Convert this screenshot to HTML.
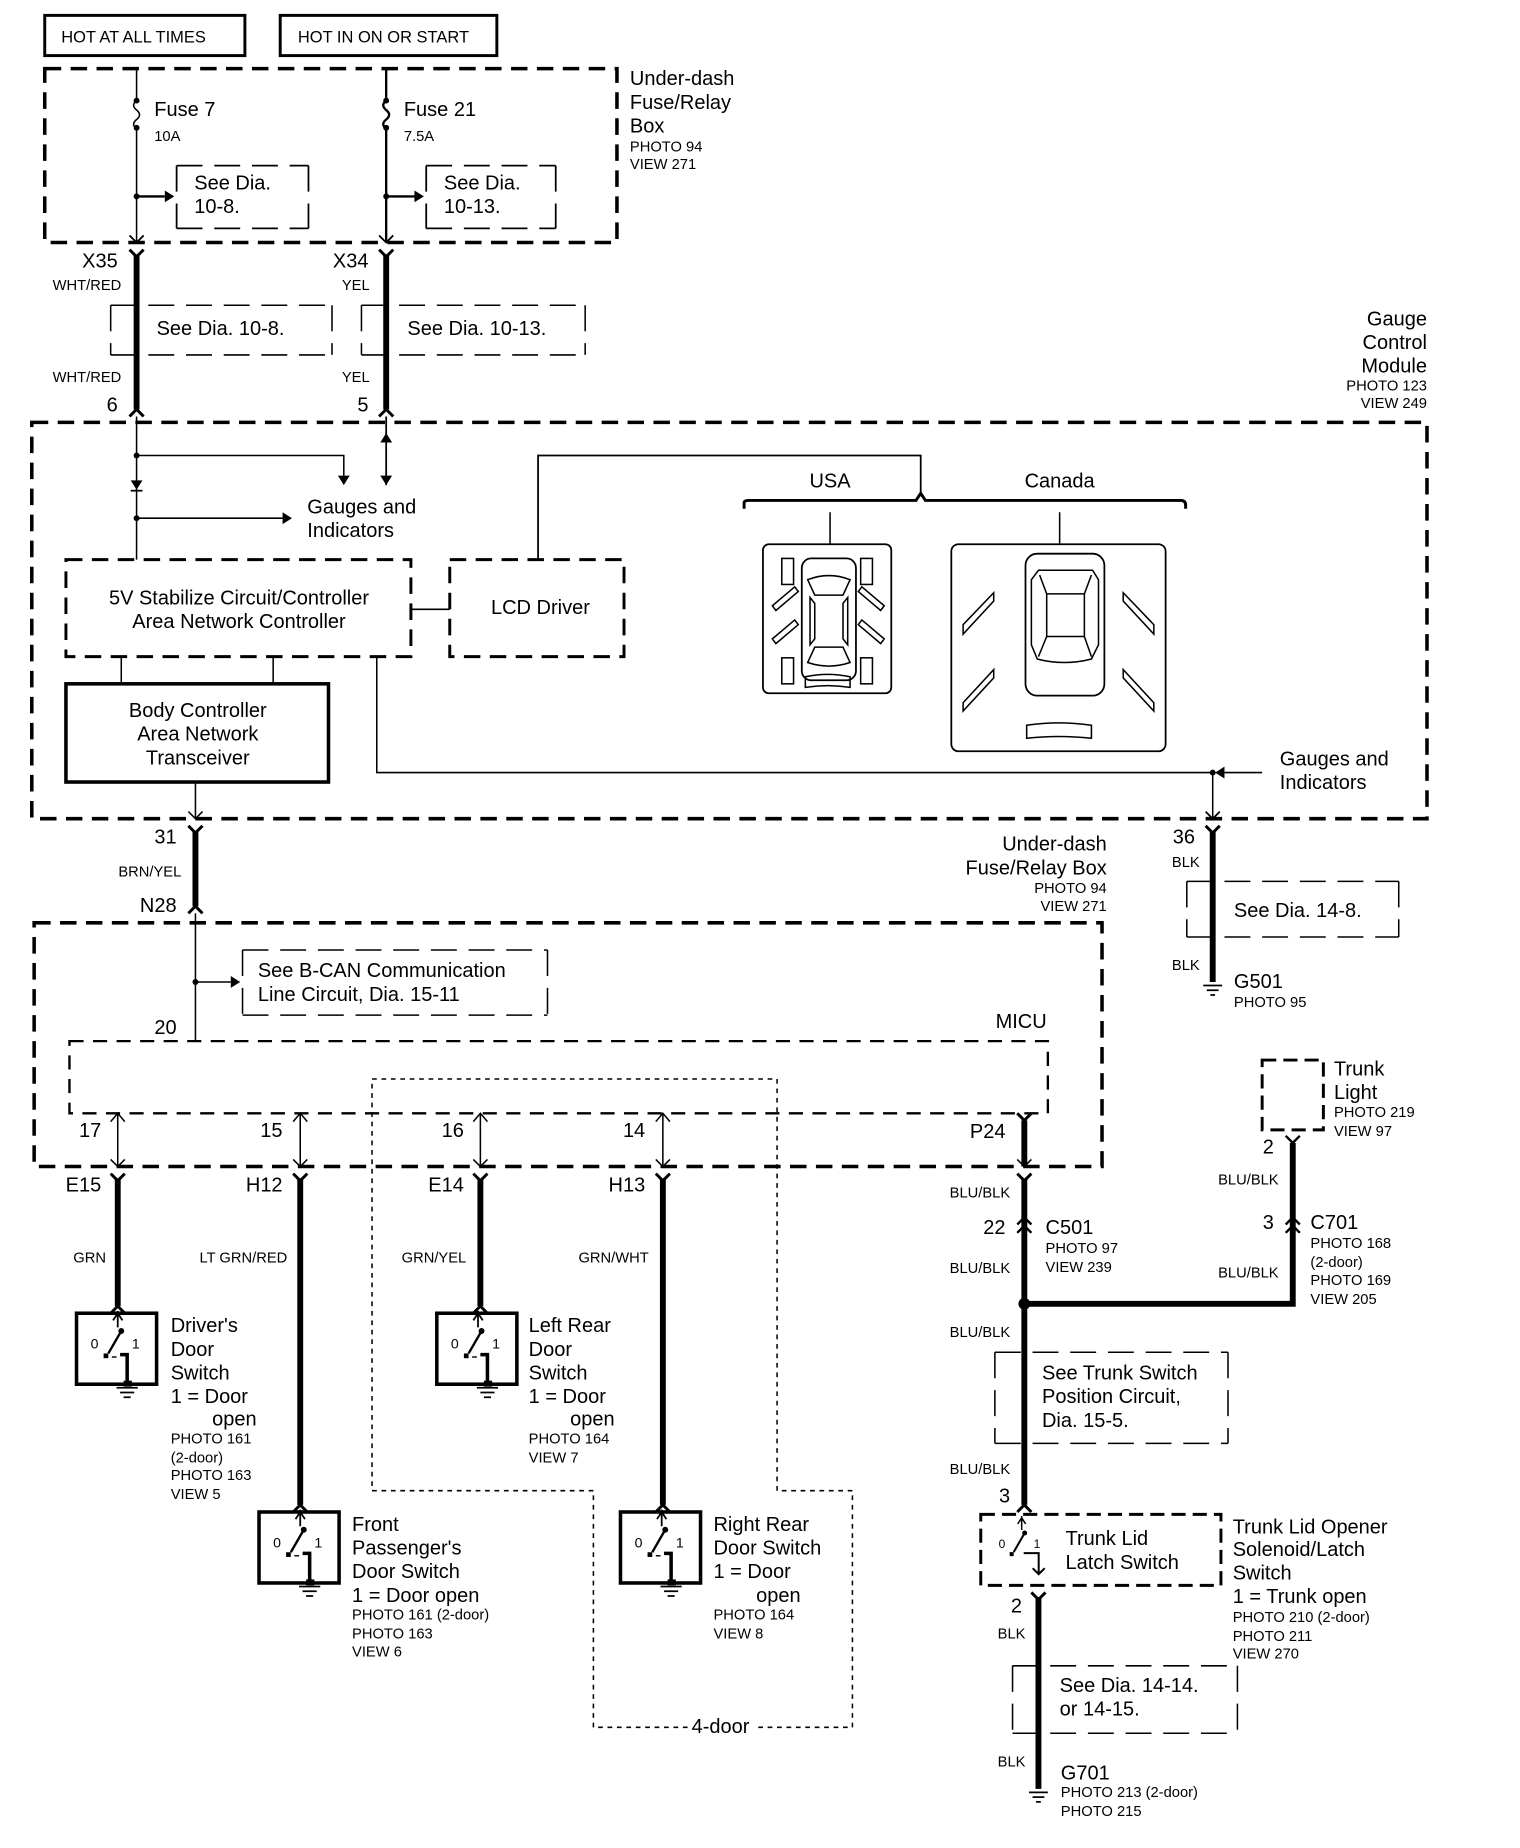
<!DOCTYPE html>
<html><head><meta charset="utf-8"><style>
html,body{margin:0;padding:0;background:#fff;}
svg{display:block;}
text{font-family:"Liberation Sans",Arial,sans-serif;fill:#000;}
.b{font-size:17px;}
.s{font-size:12.5px;}
.m{font-size:14px;}
</style></head><body>
<svg width="1520" height="1848" viewBox="0 0 1291 1562" preserveAspectRatio="none" xmlns="http://www.w3.org/2000/svg">
<defs>
<g id="sw">
 <rect x="0" y="0" width="68" height="60" fill="#fff" stroke="#000" stroke-width="3"/>
 <path d="M35,-2 L35,12 M31,6 L35,0 L39,6" stroke="#000" stroke-width="1.5" fill="none"/>
 <circle cx="38" cy="15" r="2.5"/>
 <path d="M38,15 L27,34" stroke="#000" stroke-width="2"/>
 <rect x="23" y="34" width="4" height="4"/>
 <path d="M30,37 L34,37" stroke="#000" stroke-width="1.2"/>
 <path d="M37,35 L43,35 L43,60" stroke="#000" stroke-width="3" fill="none"/>
 <rect x="40" y="57" width="7" height="5"/>
 <path d="M34,63 L52,63 M37,67 L49,67 M40,71 L46,71" stroke="#000" stroke-width="1.5"/>
 <text x="12" y="30" style="font-size:12px">0</text>
 <text x="47" y="30" style="font-size:12px">1</text>
</g>
<g id="gnd"><path d="M-8,0 L8,0 M-5,4 L5,4 M-2,8 L2,8" stroke="#000" stroke-width="1.5"/></g>
</defs>
<g fill="none" stroke="#000">
<rect x="38" y="13" width="170" height="34" stroke-width="2.5"/>
<rect x="238" y="13" width="184" height="34" stroke-width="2.5"/>
<rect x="38" y="58" width="486" height="147" stroke-width="3" stroke-dasharray="14,8"/>
<path d="M116,58 L116,85 q-5,4 0,8 q5,4 0,8 q-5,4 0,8 L116,205" stroke-width="1.3"/>
<path d="M328,58 L328,85 q-5,4 0,8 q5,4 0,8 q-5,4 0,8 L328,205" stroke-width="2"/>
<path d="M116,166 L140,166 M328,166 L352,166" stroke-width="2"/>
<path d="M150,140 L262,140 M150,193 L262,193 M150,140 L150,193 M262,140 L262,193" stroke-width="1.5" stroke-dasharray="22,10"/>
<path d="M362,140 L472,140 M362,193 L472,193 M362,140 L362,193 M472,140 L472,193" stroke-width="1.5" stroke-dasharray="22,10"/>
<path d="M110,199 L116,205 L122,199 M322,199 L328,205 L334,199" stroke-width="1.5"/>
<path d="M110,211 L116,217 L122,211 M322,211 L328,217 L334,211" stroke-width="2.5"/>
<path d="M116,215 L116,346 M328,215 L328,346" stroke-width="5"/>
<path d="M110,352 L116,346 L122,352 M322,352 L328,346 L334,352" stroke-width="2.5"/>
<path d="M94,258 L282,258 M94,300 L282,300 M94,258 L94,300 M282,258 L282,300" stroke-width="1.3" stroke-dasharray="22,10"/>
<path d="M307,258 L497,258 M307,300 L497,300 M307,258 L307,300 M497,258 L497,300" stroke-width="1.3" stroke-dasharray="22,10"/>
<rect x="27" y="357" width="1185" height="335" stroke-width="3" stroke-dasharray="14,8"/>
<path d="M116,352 L116,473" stroke-width="1.3"/>
<path d="M328,352 L328,410" stroke-width="1.5"/>
<path d="M116,385 L292,385 L292,402 M116,438 L240,438" stroke-width="1.3"/>
<path d="M56,473 L349,473 L349,555 L56,555 Z" stroke-width="2.5" stroke-dasharray="14,8"/>
<path d="M382,473 L530,473 L530,555 L382,555 Z" stroke-width="2.5" stroke-dasharray="14,8"/>
<path d="M349,515 L382,515" stroke-width="1.3"/>
<path d="M457,473 L457,385 L782,385 L782,418" stroke-width="1.5"/>
<path d="M632,430 L632,425 Q632,423 636,423 L778,423 L782,417 L786,423 L1003,423 Q1007,423 1007,427 L1007,430" stroke-width="2.5"/>
<path d="M705,433 L705,460 M900,433 L900,460" stroke-width="1.3"/>
<rect x="56" y="578" width="223" height="83" stroke-width="3"/>
<path d="M103,555 L103,578 M232,555 L232,578" stroke-width="1.3"/>
<path d="M320,555 L320,653 L1030,653 L1030,692 M1040,653 L1072,653" stroke-width="1.3"/>
<path d="M166,661 L166,692 M160,686 L166,692 L172,686" stroke-width="1.3"/>
<path d="M1024,686 L1030,692 L1036,686" stroke-width="1.5"/>
<rect x="648" y="460" width="109" height="126" rx="5" stroke-width="1.5"/>
<rect x="681" y="472" width="46" height="103" rx="8" stroke-width="1.5"/>
<path d="M686,490 Q704,483 722,490 L716,503 L692,503 Z M688,505 L692,510 L692,540 L688,545 Z M720,505 L716,510 L716,540 L720,545 Z M692,547 L716,547 L722,560 Q704,566 686,560 Z" stroke-width="1.3"/>
<rect x="664" y="472" width="10" height="22" stroke-width="1.3"/><rect x="731" y="472" width="10" height="22" stroke-width="1.3"/>
<rect x="664" y="556" width="10" height="22" stroke-width="1.3"/><rect x="731" y="556" width="10" height="22" stroke-width="1.3"/>
<path d="M656,512 L675,496 L678,500 L659,516 Z M656,540 L675,524 L678,528 L659,544 Z M751,512 L732,496 L729,500 L748,516 Z M751,540 L732,524 L729,528 L748,544 Z" stroke-width="1.3"/>
<path d="M684,572 Q703,568 722,572 L722,581 Q703,578 684,581 Z" stroke-width="1.3"/>
<rect x="808" y="460" width="182" height="175" rx="6" stroke-width="1.5"/>
<rect x="871" y="468" width="67" height="120" rx="10" stroke-width="1.5"/>
<path d="M882,482 L928,482 L933,490 L933,545 L927,557 Q904,563 881,557 L876,545 L876,490 Z M883,486 L889,502 L921,502 L927,486 M889,502 L889,538 L921,538 L921,502 M889,538 L882,555 M921,538 L927,555" stroke-width="1.3"/>
<path d="M818,528 L844,501 L844,508 L818,536 Z M818,594 L844,566 L844,573 L818,601 Z M980,528 L954,501 L954,508 L980,536 Z M980,594 L954,566 L954,573 L980,601 Z" stroke-width="1.3"/>
<path d="M872,613 Q899,609 927,613 L927,624 Q899,621 872,624 Z" stroke-width="1.3"/>
<path d="M160,698 L166,704 L172,698" stroke-width="2.5"/>
<path d="M166,702 L166,766" stroke-width="5"/>
<path d="M160,772 L166,766 L172,772" stroke-width="2.5"/>
<path d="M1024,698 L1030,704 L1036,698" stroke-width="2.5"/>
<path d="M1030,702 L1030,830" stroke-width="5"/>
<path d="M1008,745 L1188,745 M1008,792 L1188,792 M1008,745 L1008,792 M1188,745 L1188,792" stroke-width="1.3" stroke-dasharray="22,10"/>
<rect x="29" y="780" width="907" height="206" stroke-width="3" stroke-dasharray="14,8"/>
<path d="M166,772 L166,880 M166,830 L196,830" stroke-width="1.3"/>
<path d="M206,803 L465,803 M206,858 L465,858 M206,803 L206,858 M465,803 L465,858" stroke-width="1.3" stroke-dasharray="22,10"/>
<rect x="59" y="880" width="831" height="61" stroke-width="2" stroke-dasharray="12,8"/>
<path d="M316,912 L660,912 L660,1260 L724,1260 L724,1460 L504,1460 L504,1260 L316,1260 Z" stroke-width="1.3" stroke-dasharray="4,4"/>
<path d="M100,941 L100,986 M255,941 L255,986 M408,941 L408,986 M563,941 L563,986" stroke-width="1.3"/>
<path d="M94,948 L100,941 L106,948 M249,948 L255,941 L261,948 M402,948 L408,941 L414,948 M557,948 L563,941 L569,948" stroke-width="1.3"/>
<path d="M94,980 L100,986 L106,980 M249,980 L255,986 L261,980 M402,980 L408,986 L414,980 M557,980 L563,986 L569,980 M864,980 L870,986 L876,980" stroke-width="1.3"/>
<path d="M864,941 L870,947 L876,941 M94,992 L100,998 L106,992 M249,992 L255,998 L261,992 M402,992 L408,998 L414,992 M557,992 L563,998 L569,992 M864,992 L870,998 L876,992" stroke-width="2.5"/>
<path d="M870,947 L870,986" stroke-width="5"/>
<path d="M100,996 L100,1104 M255,996 L255,1272 M408,996 L408,1104 M563,996 L563,1272" stroke-width="5"/>
<path d="M94,1110 L100,1104 L106,1110 M249,1278 L255,1272 L261,1278 M402,1110 L408,1104 L414,1110 M557,1278 L563,1272 L569,1278" stroke-width="2.5"/>
<path d="M870,996 L870,1272 M870,1102 L1098,1102 L1098,966" stroke-width="5"/>
<path d="M864,1035 L870,1029 L876,1035 M864,1042 L870,1036 L876,1042" stroke-width="2"/>
<path d="M1092,1035 L1098,1029 L1104,1035 M1092,1042 L1098,1036 L1104,1042 M1092,960 L1098,966 L1104,960" stroke-width="2"/>
<path d="M1072,896 L1124,896 L1124,955 L1072,955 Z" stroke-width="2.5" stroke-dasharray="12,6"/>
<path d="M845,1143 L1043,1143 M845,1220 L1043,1220 M845,1143 L845,1220 M1043,1143 L1043,1220" stroke-width="1.3" stroke-dasharray="22,10"/>
<path d="M864,1278 L870,1272 L876,1278" stroke-width="2.5"/>
<path d="M833,1280 L1037,1280 L1037,1340 L833,1340 Z" stroke-width="2.5" stroke-dasharray="12,6"/>
<path d="M876,1346 L882,1352 L888,1346" stroke-width="2.5"/>
<path d="M882,1350 L882,1512" stroke-width="5"/>
<path d="M860,1408 L1051,1408 M860,1465 L1051,1465 M860,1408 L860,1465 M1051,1408 L1051,1465" stroke-width="1.3" stroke-dasharray="22,10"/>
</g>
<g fill="#000">
<circle cx="116" cy="85" r="2.5"/><circle cx="116" cy="108" r="2.5"/><circle cx="328" cy="85" r="2.5"/><circle cx="328" cy="108" r="2.5"/>
<circle cx="116" cy="166" r="2.5"/><circle cx="328" cy="166" r="2.5"/>
<path d="M140,161 L148,166 L140,171 Z M352,161 L360,166 L352,171 Z"/>
<circle cx="116" cy="385" r="2.5"/><circle cx="116" cy="438" r="2.5"/>
<path d="M287,402 L292,410 L297,402 Z M323,402 L328,410 L333,402 Z M323,374 L328,366 L333,374 Z M240,433 L248,438 L240,443 Z"/>
<path d="M111,406 L121,406 L116,414 Z"/><rect x="111" y="414" width="10" height="1.5"/>
<path d="M1040,648 L1032,653 L1040,658 Z"/><circle cx="1030" cy="653" r="2.5"/>
<circle cx="166" cy="830" r="2.5"/><path d="M196,825 L204,830 L196,835 Z"/>
<circle cx="870" cy="1102" r="5"/>
</g>
<use href="#gnd" x="1030" y="833"/>
<use href="#gnd" x="882" y="1515"/>
<use href="#sw" x="65" y="1110"/>
<use href="#sw" x="220" y="1278"/>
<use href="#sw" x="371" y="1110"/>
<use href="#sw" x="527" y="1278"/>
<g transform="translate(838,1283) scale(0.85)">
 <path d="M35,-2 L35,12 M31,6 L35,0 L39,6" stroke="#000" stroke-width="1.5" fill="none"/>
 <circle cx="38" cy="15" r="2.5"/>
 <path d="M38,15 L27,34" stroke="#000" stroke-width="2"/>
 <rect x="23" y="34" width="4" height="4"/>
 <path d="M37,35 L52,35 L52,55 M46,50 L52,56 L58,50" stroke="#000" stroke-width="2" fill="none"/>
 <text x="12" y="30" style="font-size:12px">0</text>
 <text x="47" y="30" style="font-size:12px">1</text>
</g>
<text x="52" y="36" class="m">HOT AT ALL TIMES</text>
<text x="253" y="36" class="m">HOT IN ON OR START</text>
<text x="535" y="72" class="b">Under-dash</text><text x="535" y="92" class="b">Fuse/Relay</text><text x="535" y="112" class="b">Box</text>
<text x="535" y="128" class="s">PHOTO 94</text><text x="535" y="143" class="s">VIEW 271</text>
<text x="131" y="98" class="b">Fuse 7</text><text x="131" y="119" class="s">10A</text>
<text x="343" y="98" class="b">Fuse 21</text><text x="343" y="119" class="s">7.5A</text>
<text x="165" y="160" class="b">See Dia.</text><text x="165" y="180" class="b">10-8.</text>
<text x="377" y="160" class="b">See Dia.</text><text x="377" y="180" class="b">10-13.</text>
<g text-anchor="end">
<text x="100" y="226" class="b">X35</text><text x="103" y="245" class="s">WHT/RED</text>
<text x="313" y="226" class="b">X34</text><text x="314" y="245" class="s">YEL</text>
<text x="103" y="323" class="s">WHT/RED</text><text x="314" y="323" class="s">YEL</text>
<text x="100" y="348" class="b">6</text><text x="313" y="348" class="b">5</text>
<text x="1212" y="275" class="b">Gauge</text><text x="1212" y="295" class="b">Control</text><text x="1212" y="315" class="b">Module</text>
<text x="1212" y="330" class="s">PHOTO 123</text><text x="1212" y="345" class="s">VIEW 249</text>
<text x="150" y="713" class="b">31</text><text x="154" y="741" class="s">BRN/YEL</text><text x="150" y="771" class="b">N28</text>
<text x="940" y="719" class="b">Under-dash</text><text x="940" y="739" class="b">Fuse/Relay Box</text>
<text x="940" y="755" class="s">PHOTO 94</text><text x="940" y="770" class="s">VIEW 271</text>
<text x="1015" y="713" class="b">36</text><text x="1019" y="733" class="s">BLK</text><text x="1019" y="820" class="s">BLK</text>
<text x="889" y="869" class="b">MICU</text>
<text x="150" y="874" class="b">20</text>
<text x="86" y="961" class="b">17</text><text x="240" y="961" class="b">15</text><text x="394" y="961" class="b">16</text><text x="548" y="961" class="b">14</text><text x="854" y="962" class="b">P24</text>
<text x="86" y="1007" class="b">E15</text><text x="240" y="1007" class="b">H12</text><text x="394" y="1007" class="b">E14</text><text x="548" y="1007" class="b">H13</text>
<text x="90" y="1067" class="s">GRN</text><text x="244" y="1067" class="s">LT GRN/RED</text><text x="396" y="1067" class="s">GRN/YEL</text><text x="551" y="1067" class="s">GRN/WHT</text>
<text x="858" y="1012" class="s">BLU/BLK</text><text x="854" y="1043" class="b">22</text><text x="858" y="1076" class="s">BLU/BLK</text>
<text x="858" y="1130" class="s">BLU/BLK</text><text x="858" y="1246" class="s">BLU/BLK</text><text x="858" y="1270" class="b">3</text>
<text x="1082" y="975" class="b">2</text><text x="1086" y="1001" class="s">BLU/BLK</text><text x="1082" y="1039" class="b">3</text><text x="1086" y="1080" class="s">BLU/BLK</text>
<text x="868" y="1363" class="b">2</text><text x="871" y="1385" class="s">BLK</text><text x="871" y="1493" class="s">BLK</text>
<text x="218" y="1205" class="b">open</text><text x="680" y="1354" class="b">open</text><text x="522" y="1205" class="b">open</text>
</g>
<text x="261" y="434" class="b">Gauges and</text><text x="261" y="454" class="b">Indicators</text>
<text x="203" y="511" class="b" text-anchor="middle">5V Stabilize Circuit/Controller</text>
<text x="203" y="531" class="b" text-anchor="middle">Area Network Controller</text>
<text x="459" y="519" class="b" text-anchor="middle">LCD Driver</text>
<text x="705" y="412" class="b" text-anchor="middle">USA</text><text x="900" y="412" class="b" text-anchor="middle">Canada</text>
<text x="168" y="606" class="b" text-anchor="middle">Body Controller</text><text x="168" y="626" class="b" text-anchor="middle">Area Network</text><text x="168" y="646" class="b" text-anchor="middle">Transceiver</text>
<text x="1087" y="647" class="b">Gauges and</text><text x="1087" y="667" class="b">Indicators</text>
<text x="133" y="283" class="b">See Dia. 10-8.</text><text x="346" y="283" class="b">See Dia. 10-13.</text>
<text x="1048" y="775" class="b">See Dia. 14-8.</text>
<text x="1048" y="835" class="b">G501</text><text x="1048" y="851" class="s">PHOTO 95</text>
<text x="219" y="826" class="b">See B-CAN Communication</text><text x="219" y="846" class="b">Line Circuit, Dia. 15-11</text>
<rect x="585" y="1450" width="56" height="20" fill="#fff"/>
<text x="612" y="1465" class="b" text-anchor="middle">4-door</text>
<text x="145" y="1126" class="b">Driver's</text><text x="145" y="1146" class="b">Door</text><text x="145" y="1166" class="b">Switch</text><text x="145" y="1186" class="b">1 = Door</text>
<text x="145" y="1220" class="s">PHOTO 161</text><text x="145" y="1236" class="s">(2-door)</text><text x="145" y="1251" class="s">PHOTO 163</text><text x="145" y="1267" class="s">VIEW 5</text>
<text x="299" y="1294" class="b">Front</text><text x="299" y="1314" class="b">Passenger's</text><text x="299" y="1334" class="b">Door Switch</text><text x="299" y="1354" class="b">1 = Door open</text>
<text x="299" y="1369" class="s">PHOTO 161 (2-door)</text><text x="299" y="1385" class="s">PHOTO 163</text><text x="299" y="1400" class="s">VIEW 6</text>
<text x="449" y="1126" class="b">Left Rear</text><text x="449" y="1146" class="b">Door</text><text x="449" y="1166" class="b">Switch</text><text x="449" y="1186" class="b">1 = Door</text>
<text x="449" y="1220" class="s">PHOTO 164</text><text x="449" y="1236" class="s">VIEW 7</text>
<text x="606" y="1294" class="b">Right Rear</text><text x="606" y="1314" class="b">Door Switch</text><text x="606" y="1334" class="b">1 = Door</text>
<text x="606" y="1369" class="s">PHOTO 164</text><text x="606" y="1385" class="s">VIEW 8</text>
<text x="888" y="1043" class="b">C501</text><text x="888" y="1059" class="s">PHOTO 97</text><text x="888" y="1075" class="s">VIEW 239</text>
<text x="1133" y="909" class="b">Trunk</text><text x="1133" y="929" class="b">Light</text><text x="1133" y="944" class="s">PHOTO 219</text><text x="1133" y="960" class="s">VIEW 97</text>
<text x="1113" y="1039" class="b">C701</text><text x="1113" y="1055" class="s">PHOTO 168</text><text x="1113" y="1071" class="s">(2-door)</text><text x="1113" y="1086" class="s">PHOTO 169</text><text x="1113" y="1102" class="s">VIEW 205</text>
<text x="885" y="1166" class="b">See Trunk Switch</text><text x="885" y="1186" class="b">Position Circuit,</text><text x="885" y="1206" class="b">Dia.  15-5.</text>
<text x="905" y="1306" class="b">Trunk Lid</text><text x="905" y="1326" class="b">Latch Switch</text>
<text x="1047" y="1296" class="b">Trunk Lid Opener</text><text x="1047" y="1315" class="b">Solenoid/Latch</text><text x="1047" y="1335" class="b">Switch</text><text x="1047" y="1355" class="b">1 = Trunk open</text>
<text x="1047" y="1371" class="s">PHOTO 210 (2-door)</text><text x="1047" y="1387" class="s">PHOTO 211</text><text x="1047" y="1402" class="s">VIEW 270</text>
<text x="900" y="1430" class="b">See Dia. 14-14.</text><text x="900" y="1450" class="b">or 14-15.</text>
<text x="901" y="1504" class="b">G701</text><text x="901" y="1519" class="s">PHOTO 213 (2-door)</text><text x="901" y="1535" class="s">PHOTO 215</text>
</svg>
</body></html>
